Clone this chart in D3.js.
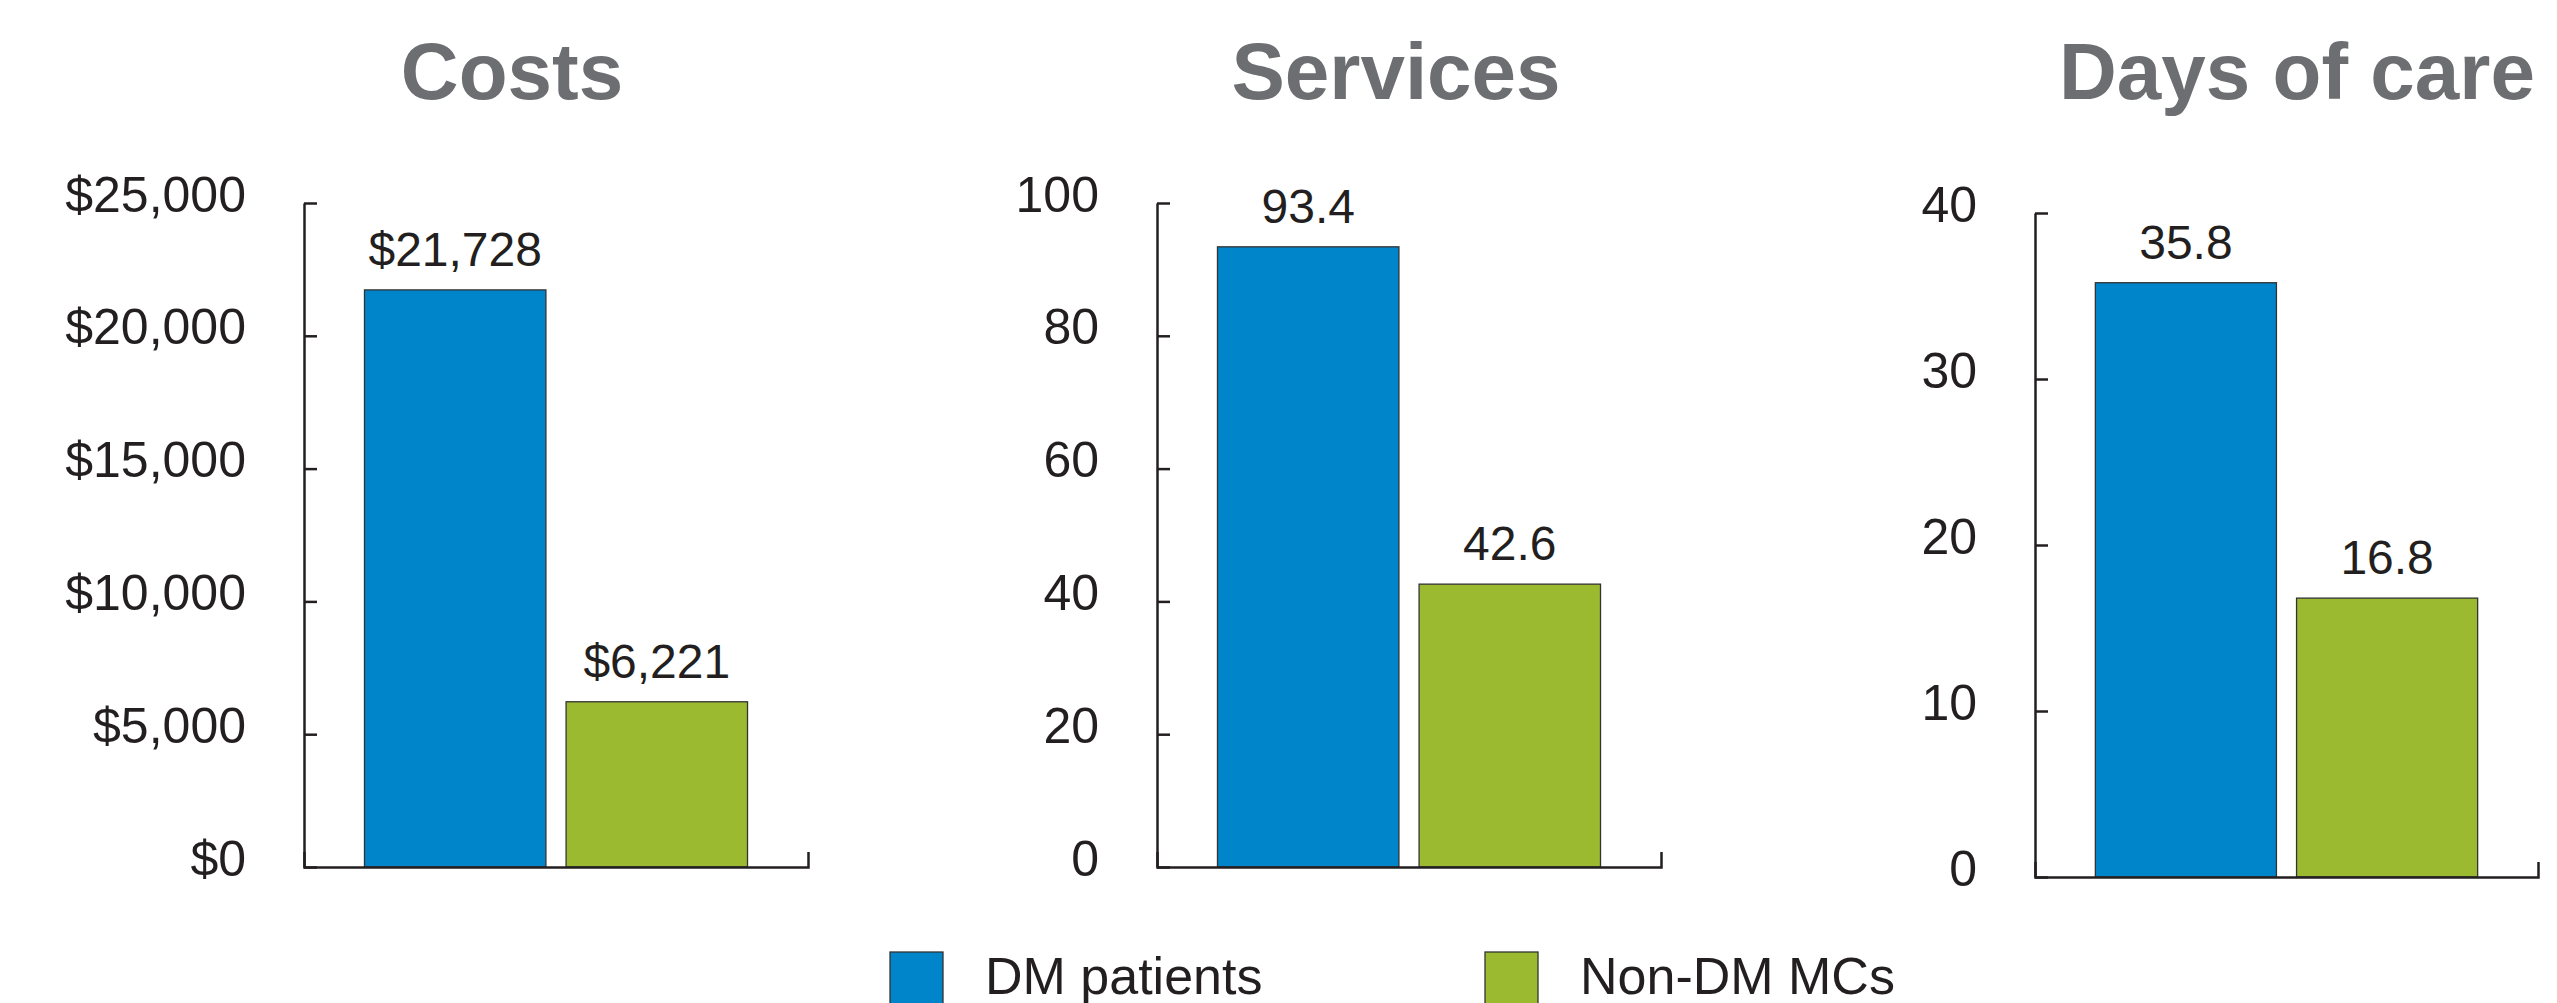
<!DOCTYPE html>
<html>
<head>
<meta charset="utf-8">
<script src="https://cdn.jsdelivr.net/npm/d3@7"></script>
<style>
  html, body { margin: 0; padding: 0; background: #ffffff; }
  svg { display: block; font-family: "Liberation Sans", Arial, sans-serif; }
</style>
</head>
<body>
<svg id="chart" width="2557" height="1003"></svg>
<script>
// ---- data ----
const panelTitles = ["Costs", "Services", "Days of care"];
const seriesNames = ["DM patients", "Non-DM MCs"];
const costValues = [21728, 6221];
const serviceValues = [93.4, 42.6];
const dayValues = [35.8, 16.8];
const costTicks = [0, 5000, 10000, 15000, 20000, 25000];
const serviceTicks = [0, 20, 40, 60, 80, 100];
const dayTicks = [0, 10, 20, 30, 40];
const seriesColors = ["#0085ca", "#9bba30"];

// ---- layout ----
const layout = [
  { axisX: 304,  right: 808,  top: 203, bottom: 867, titleX: 512,  max: 25000, values: costValues,    ticks: costTicks,    fmt: d3.format("$,") },
  { axisX: 1157, right: 1661, top: 203, bottom: 867, titleX: 1396, max: 100,   values: serviceValues, ticks: serviceTicks, fmt: d3.format("") },
  { axisX: 2035, right: 2538, top: 213, bottom: 877, titleX: 2297, max: 40,    values: dayValues,     ticks: dayTicks,     fmt: d3.format("") }
];

const svg = d3.select("#chart");
const textColor = "#231f20";

layout.forEach((p, i) => {
  const g = svg.append("g");
  const y = d3.scaleLinear().domain([0, p.max]).range([p.bottom, p.top]);
  const x = d3.scaleBand().domain(seriesNames).range([p.axisX, p.right])
    .paddingInner(0.1).paddingOuter(0.3);

  // title
  g.append("text")
    .attr("x", p.titleX).attr("y", 99)
    .attr("text-anchor", "middle")
    .attr("font-size", 80).attr("font-weight", "bold")
    .attr("fill", "#6d6e71")
    .text(panelTitles[i]);

  // bars
  g.selectAll("rect.bar").data(p.values).join("rect")
    .attr("class", "bar")
    .attr("x", (d, j) => x(seriesNames[j]))
    .attr("width", x.bandwidth())
    .attr("y", d => y(d))
    .attr("height", d => y(0) - y(d))
    .attr("fill", (d, j) => seriesColors[j])
    .attr("stroke", "#333")
    .attr("stroke-width", 1.3);

  // value labels
  g.selectAll("text.val").data(p.values).join("text")
    .attr("class", "val")
    .attr("x", (d, j) => x(seriesNames[j]) + x.bandwidth() / 2)
    .attr("y", d => y(d) - 24)
    .attr("text-anchor", "middle")
    .attr("font-size", 48)
    .attr("fill", textColor)
    .text(d => p.fmt(d));

  // y axis
  const yAxis = d3.axisLeft(y).tickValues(p.ticks).tickFormat(p.fmt)
    .tickSizeInner(-13).tickSizeOuter(0).tickPadding(58);
  const ya = g.append("g").attr("transform", `translate(${p.axisX},0)`).call(yAxis);
  ya.select(".domain").attr("stroke", textColor).attr("stroke-width", 2.5);
  ya.selectAll(".tick line").attr("stroke", textColor).attr("stroke-width", 2.5);
  ya.selectAll(".tick text")
    .attr("font-size", 50).attr("font-family", "Liberation Sans, Arial, sans-serif")
    .attr("fill", textColor).attr("dy", "8px");

  // x axis (baseline with upward end ticks)
  const xAxis = d3.axisBottom(x).tickSizeInner(0).tickSizeOuter(-15).tickFormat("");
  const xa = g.append("g").attr("transform", `translate(0,${p.bottom})`).call(xAxis);
  xa.selectAll(".tick").remove();
  xa.select(".domain").attr("stroke", textColor).attr("stroke-width", 2.5);
});

// legend
const legendX = [890, 1485];
const lg = svg.append("g");
seriesNames.forEach((name, j) => {
  lg.append("rect")
    .attr("x", legendX[j]).attr("y", 952)
    .attr("width", 53).attr("height", 53)
    .attr("fill", seriesColors[j])
    .attr("stroke", "#333").attr("stroke-width", 1.3);
  lg.append("text")
    .attr("x", legendX[j] + 95).attr("y", 994)
    .attr("font-size", 52)
    .attr("fill", textColor)
    .text(name);
});
</script>
</body>
</html>
